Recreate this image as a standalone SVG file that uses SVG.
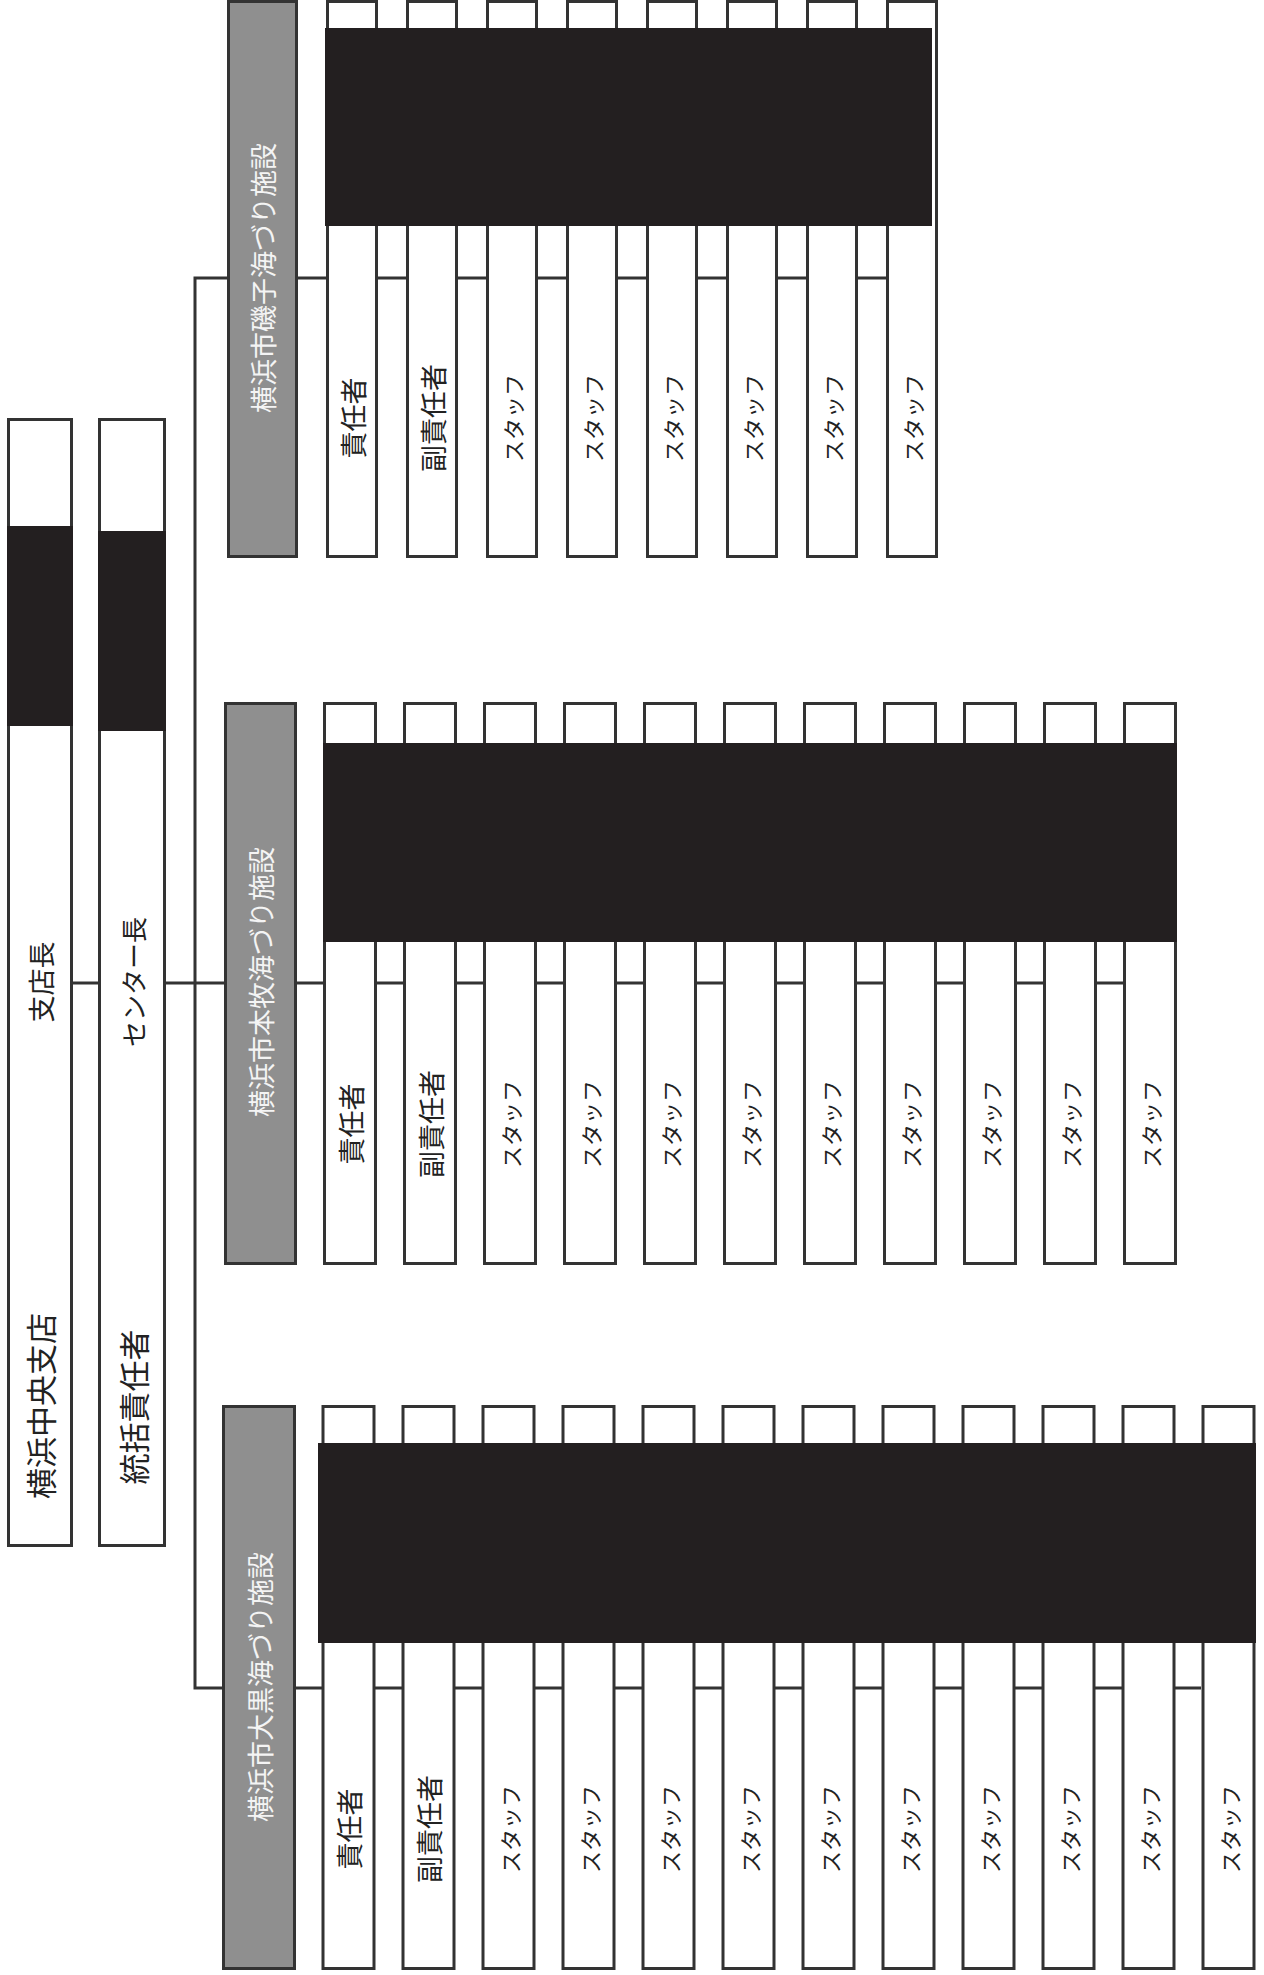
<svg xmlns="http://www.w3.org/2000/svg" width="1264" height="1975" viewBox="0 0 1264 1975">
<style>
.bg{fill:#ffffff}
.box{fill:#ffffff;stroke:#333333;stroke-width:3}
.gray{fill:#8f8f8f;stroke:#333333;stroke-width:3}
.red{fill:#231f20}
.con{fill:none;stroke:#333333;stroke-width:3}
.t{font-family:"Noto Sans CJK JP","Noto Sans CJK SC",sans-serif;text-anchor:middle;dominant-baseline:central;fill:#222222}
.k{font-size:27px}
.s{font-size:22px}
.g{font-size:27px;fill:#f4f4f4}
.big{font-size:31px}
</style>
<rect class="bg" x="0" y="0" width="1264" height="1975"/>
<g id="connectors">
<path class="con" d="M73 983 H98"/>
<path class="con" d="M166 983 H224"/>
<path class="con" d="M227 278 H195 V1688 H222"/>
<path class="con" d="M298 278 H886"/>
<path class="con" d="M297 983 H1123"/>
<path class="con" d="M296 1688 H1201"/>
</g>
<g id="branch">
<rect class="box" x="8.5" y="419.5" width="63" height="1126"/>
<rect class="red" x="7" y="526" width="66" height="200"/>
<text class="t k" transform="translate(40,982) rotate(-90)">支店長</text>
<text class="t big" transform="translate(39,1406) rotate(-90)">横浜中央支店</text>
</g>
<g id="center">
<rect class="box" x="99.5" y="419.5" width="65" height="1126"/>
<rect class="red" x="98" y="531" width="68" height="200"/>
<text class="t" style="font-size:26px" transform="translate(132,982) rotate(-90)">センター長</text>
<text class="t big" transform="translate(132,1407) rotate(-90)">統括責任者</text>
</g>
<g id="isogo">
<g id="isogo-facility">
<rect class="gray" x="228.5" y="1.5" width="68" height="555"/>
<text class="t g" transform="translate(262,278) rotate(-90)">横浜市磯子海づり施設</text>
</g>
<g id="isogo-staff">
<rect class="box" x="327.5" y="1.5" width="49" height="555"/>
<rect class="box" x="407.5" y="1.5" width="49" height="555"/>
<rect class="box" x="487.5" y="1.5" width="49" height="555"/>
<rect class="box" x="567.5" y="1.5" width="49" height="555"/>
<rect class="box" x="647.5" y="1.5" width="49" height="555"/>
<rect class="box" x="727.5" y="1.5" width="49" height="555"/>
<rect class="box" x="807.5" y="1.5" width="49" height="555"/>
<rect class="box" x="887.5" y="1.5" width="49" height="555"/>
<text class="t k" transform="translate(352,418) rotate(-90)">責任者</text>
<text class="t k" transform="translate(432,418) rotate(-90)">副責任者</text>
<text class="t s" transform="translate(512,418) rotate(-90)">スタッフ</text>
<text class="t s" transform="translate(592,418) rotate(-90)">スタッフ</text>
<text class="t s" transform="translate(672,418) rotate(-90)">スタッフ</text>
<text class="t s" transform="translate(752,418) rotate(-90)">スタッフ</text>
<text class="t s" transform="translate(832,418) rotate(-90)">スタッフ</text>
<text class="t s" transform="translate(912,418) rotate(-90)">スタッフ</text>
</g>
<rect class="red" x="325" y="28" width="607" height="198"/>
</g>
<g id="honmoku">
<g id="honmoku-facility">
<rect class="gray" x="225.5" y="703.5" width="70" height="560"/>
<text class="t g" transform="translate(260,982) rotate(-90)">横浜市本牧海づり施設</text>
</g>
<g id="honmoku-staff">
<rect class="box" x="324.5" y="703.5" width="51" height="560"/>
<rect class="box" x="404.5" y="703.5" width="51" height="560"/>
<rect class="box" x="484.5" y="703.5" width="51" height="560"/>
<rect class="box" x="564.5" y="703.5" width="51" height="560"/>
<rect class="box" x="644.5" y="703.5" width="51" height="560"/>
<rect class="box" x="724.5" y="703.5" width="51" height="560"/>
<rect class="box" x="804.5" y="703.5" width="51" height="560"/>
<rect class="box" x="884.5" y="703.5" width="51" height="560"/>
<rect class="box" x="964.5" y="703.5" width="51" height="560"/>
<rect class="box" x="1044.5" y="703.5" width="51" height="560"/>
<rect class="box" x="1124.5" y="703.5" width="51" height="560"/>
<text class="t k" transform="translate(350,1124) rotate(-90)">責任者</text>
<text class="t k" transform="translate(430,1124) rotate(-90)">副責任者</text>
<text class="t s" transform="translate(510,1124) rotate(-90)">スタッフ</text>
<text class="t s" transform="translate(590,1124) rotate(-90)">スタッフ</text>
<text class="t s" transform="translate(670,1124) rotate(-90)">スタッフ</text>
<text class="t s" transform="translate(750,1124) rotate(-90)">スタッフ</text>
<text class="t s" transform="translate(830,1124) rotate(-90)">スタッフ</text>
<text class="t s" transform="translate(910,1124) rotate(-90)">スタッフ</text>
<text class="t s" transform="translate(990,1124) rotate(-90)">スタッフ</text>
<text class="t s" transform="translate(1070,1124) rotate(-90)">スタッフ</text>
<text class="t s" transform="translate(1150,1124) rotate(-90)">スタッフ</text>
</g>
<rect class="red" x="323" y="743" width="854" height="199"/>
</g>
<g id="daikoku">
<g id="daikoku-facility">
<rect class="gray" x="223.5" y="1406.5" width="71" height="562"/>
<text class="t g" transform="translate(259,1687) rotate(-90)">横浜市大黒海づり施設</text>
</g>
<g id="daikoku-staff">
<rect class="box" x="323" y="1406.5" width="51" height="562"/>
<rect class="box" x="403" y="1406.5" width="51" height="562"/>
<rect class="box" x="483" y="1406.5" width="51" height="562"/>
<rect class="box" x="563" y="1406.5" width="51" height="562"/>
<rect class="box" x="643" y="1406.5" width="51" height="562"/>
<rect class="box" x="723" y="1406.5" width="51" height="562"/>
<rect class="box" x="803" y="1406.5" width="51" height="562"/>
<rect class="box" x="883" y="1406.5" width="51" height="562"/>
<rect class="box" x="963" y="1406.5" width="51" height="562"/>
<rect class="box" x="1043" y="1406.5" width="51" height="562"/>
<rect class="box" x="1123" y="1406.5" width="51" height="562"/>
<rect class="box" x="1203" y="1406.5" width="51" height="562"/>
<text class="t k" transform="translate(348.5,1829) rotate(-90)">責任者</text>
<text class="t k" transform="translate(428.5,1829) rotate(-90)">副責任者</text>
<text class="t s" transform="translate(508.5,1829) rotate(-90)">スタッフ</text>
<text class="t s" transform="translate(588.5,1829) rotate(-90)">スタッフ</text>
<text class="t s" transform="translate(668.5,1829) rotate(-90)">スタッフ</text>
<text class="t s" transform="translate(748.5,1829) rotate(-90)">スタッフ</text>
<text class="t s" transform="translate(828.5,1829) rotate(-90)">スタッフ</text>
<text class="t s" transform="translate(908.5,1829) rotate(-90)">スタッフ</text>
<text class="t s" transform="translate(988.5,1829) rotate(-90)">スタッフ</text>
<text class="t s" transform="translate(1068.5,1829) rotate(-90)">スタッフ</text>
<text class="t s" transform="translate(1148.5,1829) rotate(-90)">スタッフ</text>
<text class="t s" transform="translate(1228.5,1829) rotate(-90)">スタッフ</text>
</g>
<rect class="red" x="318" y="1443" width="938" height="200"/>
</g>
</svg>
